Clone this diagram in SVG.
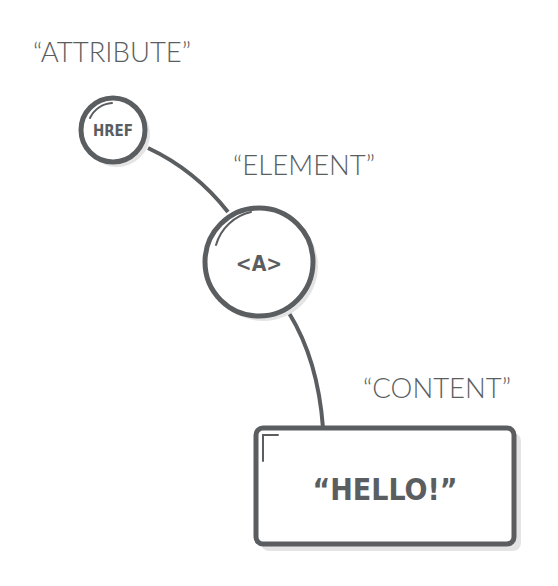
<svg xmlns="http://www.w3.org/2000/svg" width="558" height="586" viewBox="0 0 558 586">
<style>
.lbl{font-family:Lato,"Open Sans",sans-serif;font-weight:300;font-size:27.5px;fill:#5b5e61}
.in{font-family:"DejaVu Sans Condensed","Open Sans",sans-serif;font-weight:bold;fill:#5b5e61;text-anchor:middle}
.sh{fill:#e4e4e4}
.st{fill:#fff;stroke:#5b5e61;stroke-width:5}
.hl{fill:none;stroke:#5b5e61;stroke-width:2;stroke-linecap:round}
.con{fill:none;stroke:#5b5e61;stroke-width:4}
</style>
<rect width="558" height="586" fill="#fff"/>
<g id="connectors">
<path class="con" d="M148,148 Q195,170 228,212"/>
<path class="con" d="M289,313 Q318,360 323,428"/>
</g>
<g id="attribute">
<text class="lbl" x="33" y="62">“ATTRIBUTE”</text>
<circle class="sh" cx="117" cy="134" r="33"/>
<circle class="st" cx="113" cy="130" r="32"/>
<path class="hl" d="M90,118 A26,26 0 0 1 112,103"/>
<text class="in" x="113" y="136" font-size="15">HREF</text>
</g>
<g id="element">
<text class="lbl" x="233" y="175">“ELEMENT”</text>
<circle class="sh" cx="263" cy="266" r="55"/>
<circle class="st" cx="259" cy="262" r="54"/>
<path class="hl" d="M216,245 A47,47 0 0 1 251,212"/>
<text class="in" x="259" y="271" font-size="21">&lt;A&gt;</text>
</g>
<g id="content">
<text class="lbl" x="363" y="398">“CONTENT”</text>
<rect class="sh" x="261" y="433" width="260" height="118" rx="8"/>
<rect class="st" x="256" y="428" width="258" height="116" rx="7"/>
<path class="hl" d="M263,461 V435 H278" stroke-linecap="butt"/>
<text class="in" x="385" y="500" font-size="30">“HELLO!”</text>
</g>
</svg>
